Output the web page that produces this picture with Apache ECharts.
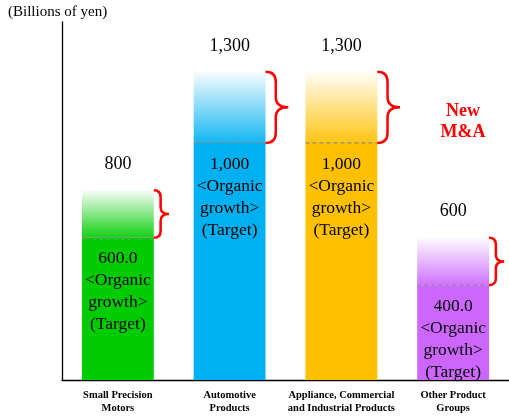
<!DOCTYPE html>
<html>
<head>
<meta charset="utf-8">
<script src="https://cdn.jsdelivr.net/npm/echarts@6/dist/echarts.min.js"></script>
<style>html,body{margin:0;padding:0;background:#fff}#c{width:509px;height:416px}</style>
</head>
<body>
<div id="c"></div>
<script>
// ---- data ----
const categories = ['Small Precision\nMotors', 'Automotive\nProducts', 'Appliance, Commercial\nand Industrial Products', 'Other Product\nGroups'];
const organic = [600, 1000, 1000, 400];
const newMA = [200, 300, 300, 200];
const totalLabels = ['800', '1,300', '1,300', '600'];
const organicLabels = ['600.0', '1,000', '1,000', '400.0'];
const colors = ['#00CC00', '#00B0F0', '#FFC000', '#CC66FF'];
const colorsRGB = ['0,204,0', '0,176,240', '255,192,0', '204,102,255'];

const BAR_RATIO = 72 / 112;
const serif = '"Liberation Serif", "Times New Roman", serif';

const chart = echarts.init(document.getElementById('c'), null, {renderer: 'canvas'});

const organicData = organic.map((v, i) => ({
  value: v,
  itemStyle: {color: colors[i]},
  label: {formatter: organicLabels[i] + '\n<Organic\ngrowth>\n(Target)'}
}));
const maData = newMA.map((v, i) => ({
  value: v,
  itemStyle: {
    color: {
      type: 'linear', x: 0, y: 0, x2: 0, y2: 1,
      colorStops: [
        {offset: 0, color: 'rgba(' + colorsRGB[i] + ',0.03)'},
        {offset: 1, color: 'rgba(' + colorsRGB[i] + ',0.92)'}
      ]
    }
  },
  label: {formatter: totalLabels[i]}
}));

const lineData = organic.map((v, i) => [i, v]);
const braceData = organic.map((v, i) => [i, v, v + newMA[i]]);

chart.setOption({
  animation: false,
  grid: {left: 62, right: -1, top: 22, bottom: 36, containLabel: false},
  graphic: [
    {type: 'text', left: 8, top: 5, style: {text: '(Billions of yen)', font: '15px ' + serif, fill: '#000'}},
    {type: 'text', x: 463, y: 122, style: {text: 'New\nM&A', font: 'bold 18px ' + serif, fill: '#FF0000', align: 'center', verticalAlign: 'middle', lineHeight: 21}}
  ],
  xAxis: {
    type: 'category',
    data: categories,
    axisTick: {show: false},
    axisLine: {lineStyle: {color: '#000', width: 1.3}},
    axisLabel: {
      interval: 0,
      margin: 9,
      color: '#000',
      fontFamily: serif,
      fontWeight: 'bold',
      fontSize: 10.5,
      lineHeight: 13
    }
  },
  yAxis: {
    type: 'value',
    min: 0,
    max: 1510,
    splitLine: {show: false},
    axisTick: {show: false},
    axisLabel: {show: false},
    axisLine: {show: true, lineStyle: {color: '#000', width: 1.3}}
  },
  series: [
    {
      type: 'bar', stack: 's', barWidth: (BAR_RATIO * 100) + '%',
      data: organicData,
      label: {
        show: true, position: 'insideTop', distance: 10,
        color: '#000', fontFamily: serif, fontSize: 17.5, lineHeight: 22, align: 'center'
      }
    },
    {
      type: 'bar', stack: 's', barWidth: (BAR_RATIO * 100) + '%',
      data: maData,
      label: {
        show: true, position: 'top', distance: 17,
        color: '#000', fontFamily: serif, fontSize: 18
      }
    },
    {
      type: 'custom', silent: true, z: 5,
      data: lineData,
      renderItem: function (params, api) {
        const c = api.coord([api.value(0), api.value(1)]);
        const w = api.size([1, 0])[0] * BAR_RATIO;
        return {
          type: 'line',
          shape: {x1: c[0] - w / 2, y1: c[1], x2: c[0] + w / 2, y2: c[1]},
          style: {stroke: '#8c8c8c', lineWidth: 1.3, lineDash: [4, 3]}
        };
      }
    },
    {
      type: 'custom', silent: true, z: 6,
      data: braceData,
      renderItem: function (params, api) {
        const i = api.value(0);
        const cb = api.coord([i, api.value(1)]);
        const ct = api.coord([i, api.value(2)]);
        const w = api.size([1, 0])[0] * BAR_RATIO;
        const x0 = cb[0] + w / 2;
        const top = ct[1], bot = cb[1];
        const h = bot - top;
        const bw = Math.min(27, h * 0.32);
        const x1 = x0 + bw * 0.45, x2 = x0 + bw;
        const mid = (top + bot) / 2;
        const r = Math.min(bw * 0.45, h / 6);
        const d = 'M' + x0 + ' ' + top +
          ' Q' + x1 + ' ' + top + ' ' + x1 + ' ' + (top + r) +
          ' L' + x1 + ' ' + (mid - r) +
          ' Q' + x1 + ' ' + mid + ' ' + x2 + ' ' + mid +
          ' Q' + x1 + ' ' + mid + ' ' + x1 + ' ' + (mid + r) +
          ' L' + x1 + ' ' + (bot - r) +
          ' Q' + x1 + ' ' + bot + ' ' + x0 + ' ' + bot;
        return {
          type: 'path',
          shape: {pathData: d},
          style: {stroke: '#FF0000', lineWidth: 2.5, fill: null}
        };
      }
    }
  ]
});
</script>
</body>
</html>
